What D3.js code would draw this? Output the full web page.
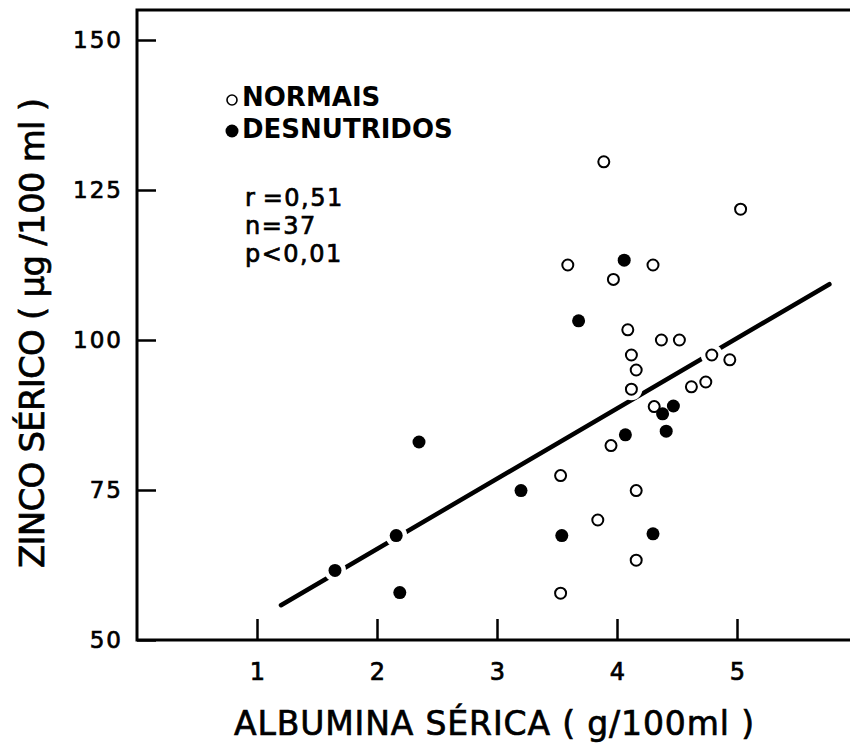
<!DOCTYPE html>
<html>
<head>
<meta charset="utf-8">
<script src="https://cdn.jsdelivr.net/npm/d3@7/dist/d3.min.js"></script>
<style>
  body { margin: 0; background: #fff; }
  svg text { font-family: "DejaVu Sans", sans-serif; fill: #000; }
  svg text.grosso { stroke: #000; stroke-width: 0.7px; }
</style>
</head>
<body>
<svg id="chart" width="850" height="747"></svg>
<script>
// valores
var normaisX = [3.89, 5.03, 3.59, 4.30, 3.97, 4.09, 4.37, 4.52, 4.12, 4.79, 4.94,
                4.16, 4.62, 4.74, 4.12, 4.31, 3.95, 3.53, 4.16, 3.84, 4.16, 3.53];
var normaisY = [129.7, 121.8, 112.5, 112.5, 110.1, 101.7, 100.0, 100.0, 97.5, 97.5, 96.7,
                95.0, 92.2, 93.0, 91.8, 88.9, 82.4, 77.4, 74.9, 70.0, 63.3, 57.8];

var desnutX = [4.06, 3.68, 4.47, 4.38, 4.07, 4.41, 2.35, 3.20, 3.54, 4.30, 2.16, 1.65, 2.19];
var desnutY = [113.3, 103.2, 89.0, 87.7, 84.2, 84.8, 83.0, 74.9, 67.4, 67.7, 67.4, 61.6, 57.9];

// reta de regressão (extremos)
var retaX = [1.20, 5.77];
var retaY = [55.8, 109.3];

var xTicks = [1, 2, 3, 4, 5];
var yTicks = [50, 75, 100, 125, 150];

var svg = d3.select('#chart');

var x = d3.scaleLinear().domain([0, 6]).range([137, 857]);
var y = d3.scaleLinear().domain([50, 155]).range([640, 10]);

// eixo x
var gx = svg.append('g').attr('transform', 'translate(0,' + y(50) + ')')
  .call(d3.axisBottom(x).tickValues(xTicks).tickFormat(d3.format('d'))
    .tickSizeInner(-21).tickSizeOuter(0).tickPadding(23));
gx.select('.domain').remove();
gx.selectAll('.tick line').attr('stroke', '#000').attr('stroke-width', 2.5);
gx.selectAll('.tick text').attr('class', 'grosso').style('font-size', '24px');

// eixo y
var gy = svg.append('g').attr('transform', 'translate(' + x(0) + ',0)')
  .call(d3.axisLeft(y).tickValues(yTicks).tickSizeInner(-19).tickSizeOuter(0).tickPadding(14));
gy.select('.domain').remove();
gy.selectAll('.tick line').attr('stroke', '#000').attr('stroke-width', 2.5);
gy.selectAll('.tick text').attr('class', 'grosso').style('font-size', '23px').style('letter-spacing', '2px');

// moldura (esquerda, topo, base)
svg.append('path')
  .attr('d', 'M' + x(6) + ',' + y(155) + 'H' + x(0) + 'V' + y(50) + 'H' + x(6))
  .attr('fill', 'none').attr('stroke', '#000').attr('stroke-width', 3);

// reta
svg.append('line')
  .attr('x1', x(retaX[0])).attr('y1', y(retaY[0]))
  .attr('x2', x(retaX[1])).attr('y2', y(retaY[1]))
  .attr('stroke', '#000').attr('stroke-width', 4.5).attr('stroke-linecap', 'round');

var todos = normaisX.map(function(d, i){ return [d, normaisY[i]]; })
  .concat(desnutX.map(function(d, i){ return [d, desnutY[i]]; }));

// halos brancos que interrompem a reta
svg.append('g').selectAll('circle').data(todos).enter().append('circle')
  .attr('cx', function(d){ return x(d[0]); })
  .attr('cy', function(d){ return y(d[1]); })
  .attr('r', 11).attr('fill', '#fff');

svg.append('g').selectAll('circle').data(normaisX).enter().append('circle')
  .attr('cx', function(d){ return x(d); })
  .attr('cy', function(d, i){ return y(normaisY[i]); })
  .attr('r', 5.5).attr('fill', '#fff').attr('stroke', '#000').attr('stroke-width', 2);

svg.append('g').selectAll('circle').data(desnutX).enter().append('circle')
  .attr('cx', function(d){ return x(d); })
  .attr('cy', function(d, i){ return y(desnutY[i]); })
  .attr('r', 6.5).attr('fill', '#000');

// legenda
svg.append('circle').attr('cx', 232).attr('cy', 100).attr('r', 5)
  .attr('fill', '#fff').attr('stroke', '#000').attr('stroke-width', 1.6);
svg.append('circle').attr('cx', 232).attr('cy', 131).attr('r', 6.5).attr('fill', '#000');
svg.append('text').attr('x', 242).attr('y', 106).text('NORMAIS')
  .style('font-size', '26px').style('font-weight', 'bold');
svg.append('text').attr('x', 242).attr('y', 138).text('DESNUTRIDOS')
  .style('font-size', '26px').style('font-weight', 'bold');

var stats = ['r\u2009=0,51', 'n=37', 'p<0,01'];
svg.append('g').selectAll('text').data(stats).enter().append('text')
  .attr('class', 'grosso')
  .attr('x', 245).attr('y', function(d, i){ return 206 + i * 28; })
  .text(function(d){ return d; })
  .style('font-size', '24px').style('letter-spacing', '1.5px');

// títulos dos eixos
svg.append('text')
  .attr('class', 'grosso')
  .attr('transform', 'translate(44,333) rotate(-90)')
  .attr('text-anchor', 'middle')
  .attr('textLength', 470).attr('lengthAdjust', 'spacing')
  .style('font-size', '34px')
  .text('ZINCO SÉRICO ( µg /100 ml )');

svg.append('text')
  .attr('class', 'grosso')
  .attr('x', 494).attr('y', 735)
  .attr('text-anchor', 'middle')
  .attr('textLength', 520).attr('lengthAdjust', 'spacing')
  .style('font-size', '33px')
  .text('ALBUMINA SÉRICA ( g/100ml )');
</script>
</body>
</html>
